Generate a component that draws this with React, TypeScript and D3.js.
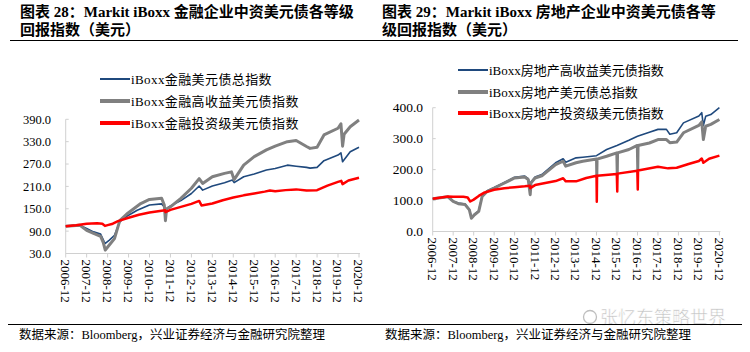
import * as d3 from "d3";
import React from "react";

type Pt = [string, number];

// x axis labels (shared by both panels)
const xTickLabels = [
  "2006-12", "2007-12", "2008-12", "2009-12", "2010-12", "2011-12", "2012-12",
  "2013-12", "2014-12", "2015-12", "2016-12", "2017-12", "2018-12", "2019-12", "2020-12",
];
const finTicks = [30, 90, 150, 210, 270, 330, 390];
const reTicks = [0, 100, 200, 300, 400];

// 图表28 金融
const finTotal: Pt[] = [
  ["2006-12-31", 103], ["2007-04-30", 105], ["2007-08-31", 106], ["2007-12-31", 97],
  ["2008-04-30", 88], ["2008-08-31", 82], ["2008-10-31", 62], ["2008-11-20", 57],
  ["2009-01-31", 66], ["2009-04-30", 79], ["2009-07-31", 115], ["2009-11-30", 130],
  ["2010-05-31", 146], ["2010-12-31", 160], ["2011-07-31", 163], ["2011-09-30", 152],
  ["2011-10-05", 145], ["2011-11-30", 155], ["2012-06-30", 172], ["2012-12-31", 191],
  ["2013-05-15", 211], ["2013-07-15", 200], ["2013-12-31", 211], ["2014-07-31", 220],
  ["2014-12-15", 227], ["2015-01-15", 220], ["2015-06-30", 236], ["2015-12-31", 243],
  ["2016-07-31", 254], ["2016-12-31", 258], ["2017-07-31", 267], ["2017-12-31", 264],
  ["2018-06-30", 261], ["2018-08-31", 259], ["2018-12-31", 261], ["2019-04-30", 279],
  ["2019-12-31", 294], ["2020-02-20", 300], ["2020-03-20", 276], ["2020-07-31", 303],
  ["2020-12-31", 315],
];
const finHY: Pt[] = [
  ["2006-12-31", 103], ["2007-08-31", 106], ["2007-12-31", 92], ["2008-04-30", 84],
  ["2008-08-31", 76], ["2008-10-15", 60], ["2008-11-20", 39], ["2009-01-15", 50],
  ["2009-04-30", 70], ["2009-07-31", 118], ["2009-11-30", 136], ["2010-07-31", 164],
  ["2010-12-31", 175], ["2011-07-31", 178], ["2011-09-15", 160], ["2011-10-05", 118],
  ["2011-10-25", 150], ["2011-12-31", 155], ["2012-06-30", 178], ["2012-12-31", 205],
  ["2013-05-15", 231], ["2013-07-15", 218], ["2013-12-31", 236], ["2014-07-31", 245],
  ["2014-11-30", 249], ["2015-01-15", 228], ["2015-06-30", 267], ["2015-12-31", 290],
  ["2016-07-31", 308], ["2016-12-31", 318], ["2017-07-31", 330], ["2017-12-31", 333],
  ["2018-06-30", 317], ["2018-08-31", 312], ["2018-12-31", 315], ["2019-04-30", 348],
  ["2019-12-31", 366], ["2020-02-20", 378], ["2020-03-20", 318], ["2020-04-15", 350],
  ["2020-07-31", 370], ["2020-12-31", 388],
];
const finIG: Pt[] = [
  ["2006-12-31", 103], ["2007-06-30", 106], ["2007-12-31", 110], ["2008-06-30", 111],
  ["2008-09-30", 110], ["2008-11-15", 104], ["2008-12-31", 106], ["2009-03-31", 110],
  ["2009-06-30", 117], ["2009-12-31", 126], ["2010-06-30", 134], ["2010-12-31", 140],
  ["2011-06-30", 144], ["2011-09-30", 146], ["2011-10-05", 141], ["2011-12-31", 147],
  ["2012-06-30", 155], ["2012-12-31", 163], ["2013-05-15", 171], ["2013-06-25", 159],
  ["2013-12-31", 164], ["2014-06-30", 173], ["2014-12-31", 180], ["2015-06-30", 186],
  ["2015-12-31", 191], ["2016-06-30", 196], ["2016-09-30", 199], ["2016-12-31", 197],
  ["2017-06-30", 200], ["2017-12-31", 202], ["2018-06-30", 199], ["2018-12-31", 200],
  ["2019-06-30", 212], ["2019-12-31", 222], ["2020-02-25", 225], ["2020-03-20", 216],
  ["2020-06-30", 226], ["2020-12-31", 233],
];

// 图表29 房地产
const reHY: Pt[] = [
  ["2006-12-31", 106], ["2007-09-30", 112], ["2007-12-31", 98], ["2008-03-31", 92],
  ["2008-07-31", 89], ["2008-10-15", 72], ["2008-11-20", 46], ["2009-01-15", 56],
  ["2009-03-31", 67], ["2009-05-31", 115], ["2009-08-31", 132], ["2009-12-31", 142],
  ["2010-04-30", 153], ["2010-12-31", 175], ["2011-06-30", 179], ["2011-08-31", 171],
  ["2011-10-05", 140], ["2011-10-20", 160], ["2011-12-31", 176], ["2012-04-30", 184],
  ["2012-12-31", 222], ["2013-05-15", 235], ["2013-07-01", 224], ["2013-12-31", 238],
  ["2014-04-30", 240], ["2014-12-31", 245], ["2015-06-30", 265], ["2015-12-31", 278],
  ["2016-07-31", 295], ["2016-12-31", 308], ["2017-07-31", 321], ["2017-12-31", 330],
  ["2018-05-31", 330], ["2018-07-31", 314], ["2018-11-30", 319], ["2019-03-31", 351],
  ["2019-12-31", 373], ["2020-02-20", 384], ["2020-03-20", 342], ["2020-04-30", 372],
  ["2020-07-31", 378], ["2020-12-31", 400],
];
const reTotal: Pt[] = [
  ["2006-12-31", 106], ["2007-09-30", 112], ["2007-12-31", 97], ["2008-03-31", 90],
  ["2008-07-31", 87], ["2008-10-15", 70], ["2008-11-20", 43], ["2009-01-15", 54],
  ["2009-03-31", 65], ["2009-05-31", 113], ["2009-08-31", 130], ["2009-12-31", 140],
  ["2010-04-30", 151], ["2010-12-31", 173], ["2011-06-30", 176], ["2011-08-31", 168],
  ["2011-10-05", 119], ["2011-10-20", 157], ["2011-12-31", 173], ["2012-04-30", 180],
  ["2012-12-31", 216], ["2013-05-15", 227], ["2013-07-01", 211], ["2013-12-31", 222],
  ["2014-04-30", 227], ["2014-12-31", 234], ["2015-01-05", 178], ["2015-01-10", 234],
  ["2015-06-30", 243], ["2015-12-28", 254], ["2016-01-05", 185], ["2016-01-10", 254],
  ["2016-07-31", 265], ["2016-12-28", 278], ["2017-01-05", 200], ["2017-01-10", 278],
  ["2017-07-31", 286], ["2017-12-31", 297], ["2018-05-31", 297], ["2018-07-31", 287],
  ["2018-11-30", 289], ["2019-03-31", 319], ["2019-12-31", 343], ["2020-02-20", 354],
  ["2020-03-20", 297], ["2020-04-30", 340], ["2020-07-31", 346], ["2020-12-31", 362],
];
const reIG: Pt[] = [
  ["2006-12-31", 106], ["2007-09-30", 113], ["2007-12-31", 112], ["2008-06-30", 112],
  ["2008-09-15", 110], ["2008-10-31", 97], ["2008-12-31", 103], ["2009-03-31", 115],
  ["2009-06-30", 125], ["2009-12-31", 135], ["2010-06-30", 140], ["2010-12-31", 143],
  ["2011-06-30", 146], ["2011-09-30", 148], ["2011-10-05", 140], ["2011-12-31", 150],
  ["2012-06-30", 157], ["2012-12-31", 163], ["2013-05-15", 172], ["2013-07-01", 162],
  ["2013-12-31", 162], ["2014-06-30", 173], ["2014-12-31", 180], ["2015-01-05", 96],
  ["2015-01-10", 180], ["2015-12-28", 186], ["2016-01-05", 129], ["2016-01-10", 187],
  ["2016-12-28", 196], ["2017-01-05", 136], ["2017-01-10", 197], ["2017-12-31", 209],
  ["2018-06-30", 204], ["2018-11-30", 206], ["2019-06-30", 218], ["2019-12-31", 228],
  ["2020-02-20", 236], ["2020-03-20", 222], ["2020-06-30", 235], ["2020-12-31", 245],
];

const BLUE = "#1F497D";
const GRAY = "#808080";
const RED = "#FF0000";
const AXIS = "#D0D0D0";
const SERIF = '"Liberation Serif", "Times New Roman", "Noto Sans CJK SC", serif';

const parse = d3.timeParse("%Y-%m-%d");

type Series = { name: string; data: Pt[]; color: string; width: number; legendWidth: number };

function Panel({
  left, right, top, bottom, domain, ticks, series, legendX, legendY, labelRight, labelSize, legendSpacing,
}: {
  left: number; right: number; top: number; bottom: number;
  domain: [number, number]; ticks: number[]; series: Series[];
  legendX: number; legendY: number[]; labelRight: number; labelSize: number; legendSpacing: number;
}) {
  const x = d3.scaleTime()
    .domain([parse("2006-12-31")!, parse("2020-12-31")!])
    .range([left, right]);
  const y = d3.scaleLinear().domain(domain).range([bottom, top]);
  const line = d3.line<Pt>()
    .x(d => x(parse(d[0])!))
    .y(d => y(d[1]));

  return (
    <g>
      {/* y axis */}
      <line x1={left} x2={left} y1={y(domain[1])} y2={bottom} stroke={AXIS} />
      {ticks.map(t => (
        <g key={t}>
          <line x1={left} x2={left + 3} y1={y(t)} y2={y(t)} stroke={AXIS} />
          <text x={labelRight} y={y(t)} dy="0.35em" textAnchor="end"
            fontFamily={SERIF} fontSize={labelSize}>{t.toFixed(1)}</text>
        </g>
      ))}
      {/* x axis */}
      <line x1={left} x2={right + 1} y1={bottom} y2={bottom} stroke={AXIS} />
      {xTickLabels.map(lbl => {
        const xx = x(parse(lbl + "-31")!);
        return (
          <g key={lbl}>
            <line x1={xx} x2={xx} y1={bottom} y2={bottom + 4} stroke={AXIS} />
            <text transform={`translate(${xx},${bottom + 6}) rotate(90)`} dy="0.35em"
              fontFamily={SERIF} fontSize={13}>{lbl}</text>
          </g>
        );
      })}
      {/* lines */}
      {series.map(s => (
        <path key={s.name} d={line(s.data) ?? ""} fill="none" stroke={s.color}
          strokeWidth={s.width} strokeLinejoin="round" />
      ))}
      {/* legend */}
      {series.map((s, i) => (
        <g key={"lg" + s.name}>
          <line x1={legendX} x2={legendX + 30} y1={legendY[i]} y2={legendY[i]}
            stroke={s.color} strokeWidth={s.legendWidth} />
          <text x={legendX + 31} y={legendY[i]} dy="0.35em" fontFamily={SERIF} fontSize={13}
            letterSpacing={legendSpacing}>
            {s.name}
          </text>
        </g>
      ))}
    </g>
  );
}

export default function App() {
  return (
    <svg width={750} height={352} style={{ position: "absolute", left: 0, top: 0, background: "#fff" }}>
      <rect width={750} height={352} fill="#fff" />
      {/* titles */}
      <g fontFamily={SERIF} fontWeight="bold" fontSize={15}>
        <text x={20} y={17}>图表 28：Markit iBoxx 金融企业中资美元债各等级</text>
        <text x={20} y={35}>回报指数（美元）</text>
        <text x={382} y={17}>图表 29：Markit iBoxx 房地产企业中资美元债各等</text>
        <text x={382} y={35}>级回报指数（美元）</text>
      </g>
      <line x1={10} x2={738} y1={40.5} y2={40.5} stroke="#000" strokeWidth={1.2} />

      <Panel
        left={65.7} right={359} top={119.3} bottom={253.5} domain={[30, 390]} ticks={finTicks}
        labelRight={51} labelSize={12.5} legendX={100} legendY={[79, 101, 123]} legendSpacing={0.4}
        series={[
          { name: "iBoxx金融美元债总指数", data: finTotal, color: BLUE, width: 1.6, legendWidth: 2 },
          { name: "iBoxx金融高收益美元债指数", data: finHY, color: GRAY, width: 3, legendWidth: 4 },
          { name: "iBoxx金融投资级美元债指数", data: finIG, color: RED, width: 2.5, legendWidth: 4 },
        ]}
      />
      <Panel
        left={432.7} right={719.4} top={107.7} bottom={231.5} domain={[0, 400]} ticks={reTicks}
        labelRight={423} labelSize={13.5} legendX={458} legendY={[70, 92, 113]} legendSpacing={0}
        series={[
          { name: "iBoxx房地产高收益美元债指数", data: reHY, color: BLUE, width: 1.6, legendWidth: 2 },
          { name: "iBoxx房地产美元债总指数", data: reTotal, color: GRAY, width: 3, legendWidth: 4 },
          { name: "iBoxx房地产投资级美元债指数", data: reIG, color: RED, width: 2.5, legendWidth: 4 },
        ]}
      />

      {/* watermark */}
      <g opacity={0.9}>
        <circle cx={590} cy={317} r={6.5} fill="none" stroke="#b8b8b8" strokeWidth={1.3} />
        <text x={600} y={318} dy="0.35em" fontFamily='"Noto Sans CJK SC", sans-serif' fontSize={18}
          fill="#bdbdbd" stroke="#fff" strokeWidth={0.5}>张忆东策略世界</text>
      </g>

      {/* footer */}
      <line x1={8} x2={742} y1={324.5} y2={324.5} stroke="#000" strokeWidth={1.2} />
      <g fontFamily={SERIF} fontSize={12.5}>
        <text x={19} y={339}>数据来源：Bloomberg，兴业证券经济与金融研究院整理</text>
        <text x={385} y={339}>数据来源：Bloomberg，兴业证券经济与金融研究院整理</text>
      </g>
    </svg>
  );
}
